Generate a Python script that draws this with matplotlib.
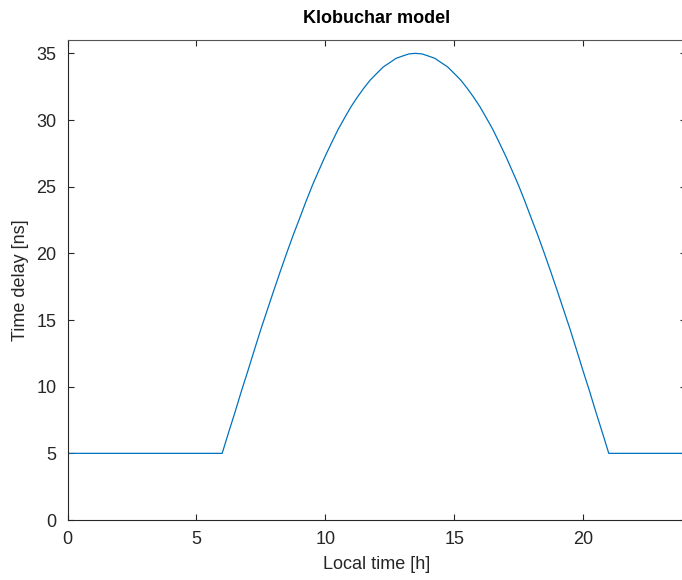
import matplotlib
matplotlib.use("Agg")
import matplotlib.pyplot as plt

# valores (hora local, atraso em ns)
hora = [0, 6, 6.25, 6.5, 6.75, 7, 7.25, 7.5, 7.75, 8, 8.25, 8.5, 8.75, 9, 9.25,
        9.5, 9.75, 10, 10.25, 10.5, 10.75, 11, 11.25, 11.5, 11.75, 12, 12.25,
        12.5, 12.75, 13, 13.25, 13.5, 13.75, 14, 14.25, 14.5, 14.75, 15, 15.25,
        15.5, 15.75, 16, 16.25, 16.5, 16.75, 17, 17.25, 17.5, 17.75, 18, 18.25,
        18.5, 18.75, 19, 19.25, 19.5, 19.75, 20, 20.25, 20.5, 20.75, 21, 24]
atraso = [5, 5, 6.57, 8.1, 9.69, 11.2, 12.76, 14.3, 15.75, 17.2, 18.62, 20.0,
          21.34, 22.6, 23.88, 25.1, 26.21, 27.3, 28.31, 29.3, 30.16, 31.0,
          31.73, 32.4, 33.01, 33.5, 33.98, 34.3, 34.63, 34.8, 34.96, 35.0,
          34.96, 34.8, 34.63, 34.3, 33.98, 33.5, 33.01, 32.4, 31.73, 31.0,
          30.16, 29.3, 28.31, 27.3, 26.21, 25.1, 23.88, 22.6, 21.34, 20.0,
          18.62, 17.2, 15.75, 14.3, 12.76, 11.2, 9.69, 8.1, 6.57, 5, 5]
xticks = [0, 5, 10, 15, 20]
yticks = [0, 5, 10, 15, 20, 25, 30, 35]

plt.rcParams['font.family'] = ['Liberation Sans', 'DejaVu Sans']

fig = plt.figure(figsize=(6.82, 5.8), dpi=100)
ax = fig.add_axes([0.099, 0.1034, 0.907, 0.8276])

ax.plot(hora, atraso, color='#0072BD', linewidth=0.9)

ax.set_xlim(0, 24)
ax.set_ylim(0, 36)
ax.set_xticks(xticks)
ax.set_yticks(yticks)
ax.tick_params(direction='in', top=True, right=True, labelsize=13,
               color='#262626', labelcolor='#262626', length=4.5, width=0.8,
               pad=8)
for s in ax.spines.values():
    s.set_color('#262626')
    s.set_linewidth(0.8)
ax.spines['top'].set_color('#555555')

ax.set_xlabel('Local time [h]', fontsize=13, color='#262626', labelpad=6)
ax.set_ylabel('Time delay [ns]', fontsize=13, color='#262626', labelpad=5)
ax.set_title('Klobuchar model', fontsize=13, fontweight='bold', pad=12)

fig.savefig('out.png', dpi=100)
